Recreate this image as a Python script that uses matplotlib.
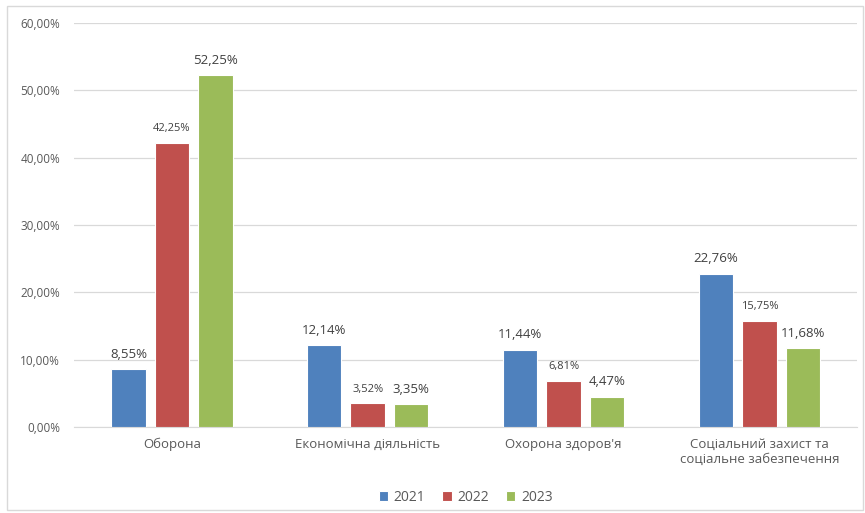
import numpy as np
import matplotlib.pyplot as plt
from matplotlib.patches import Rectangle
from matplotlib.ticker import FuncFormatter

plt.rcParams['font.family'] = ['Open Sans', 'DejaVu Sans']

# Дані
categories = ['Оборона', 'Економічна діяльність', "Охорона здоров'я",
              'Соціальний захист та\nсоціальне забезпечення']
years = ['2021', '2022', '2023']
v2021 = [8.55, 12.14, 11.44, 22.76]
v2022 = [42.25, 3.52, 6.81, 15.75]
v2023 = [52.25, 3.35, 4.47, 11.68]
colors = ['#4F81BD', '#C0504D', '#9BBB59']

fig = plt.figure(figsize=(8.65, 5.13), dpi=100)
ax = fig.add_axes([0.0855, 0.1676, 0.9055, 0.7874])

# рамка діаграми
fig.patches.append(Rectangle((0.008, 0.006), 0.99, 0.982, transform=fig.transFigure,
                             fill=False, edgecolor='#D9D9D9', linewidth=1))

x = np.arange(len(categories))
w = 0.176
step = 0.222
small = {(1, 0), (1, 1), (1, 2), (1, 3)}  # підписи меншим шрифтом (серія, категорія)

for i, (vals, yr) in enumerate(zip([v2021, v2022, v2023], years)):
    xs = x + (i - 1) * step
    ax.bar(xs, vals, width=w, color=colors[i], edgecolor='white', linewidth=0.8,
           label=yr, zorder=3)
    for j, (xx, v) in enumerate(zip(xs, vals)):
        fs = 8 if (i, j) in small else 9.5
        ax.text(xx, v + 1.3, f'{v:.2f}%'.replace('.', ','), ha='center', va='bottom',
                fontsize=fs, color='#404040')

ax.set_xlim(-0.5, 3.5)
ax.set_ylim(0, 60)
ax.set_yticks(np.arange(0, 61, 10))
ax.yaxis.set_major_formatter(FuncFormatter(lambda v, p: f'{v:.2f}%'.replace('.', ',')))
ax.set_xticks(x)
ax.set_xticklabels(categories, fontsize=9.5, color='#595959')
ax.tick_params(axis='y', labelsize=8.5, colors='#595959', length=0, pad=10)
ax.tick_params(axis='x', length=0, pad=8)
ax.grid(axis='y', color='#D9D9D9', linewidth=0.9, zorder=0)
for s in ['top', 'right', 'left']:
    ax.spines[s].set_visible(False)
ax.spines['bottom'].set_color('#D9D9D9')

leg = ax.legend(loc='upper center', bbox_to_anchor=(0.5, -0.125), ncol=3, frameon=False,
                fontsize=10, handlelength=0.7, handleheight=0.7, handletextpad=0.4,
                columnspacing=1.2)
for t in leg.get_texts():
    t.set_color('#595959')

fig.savefig('out.png', dpi=100)
